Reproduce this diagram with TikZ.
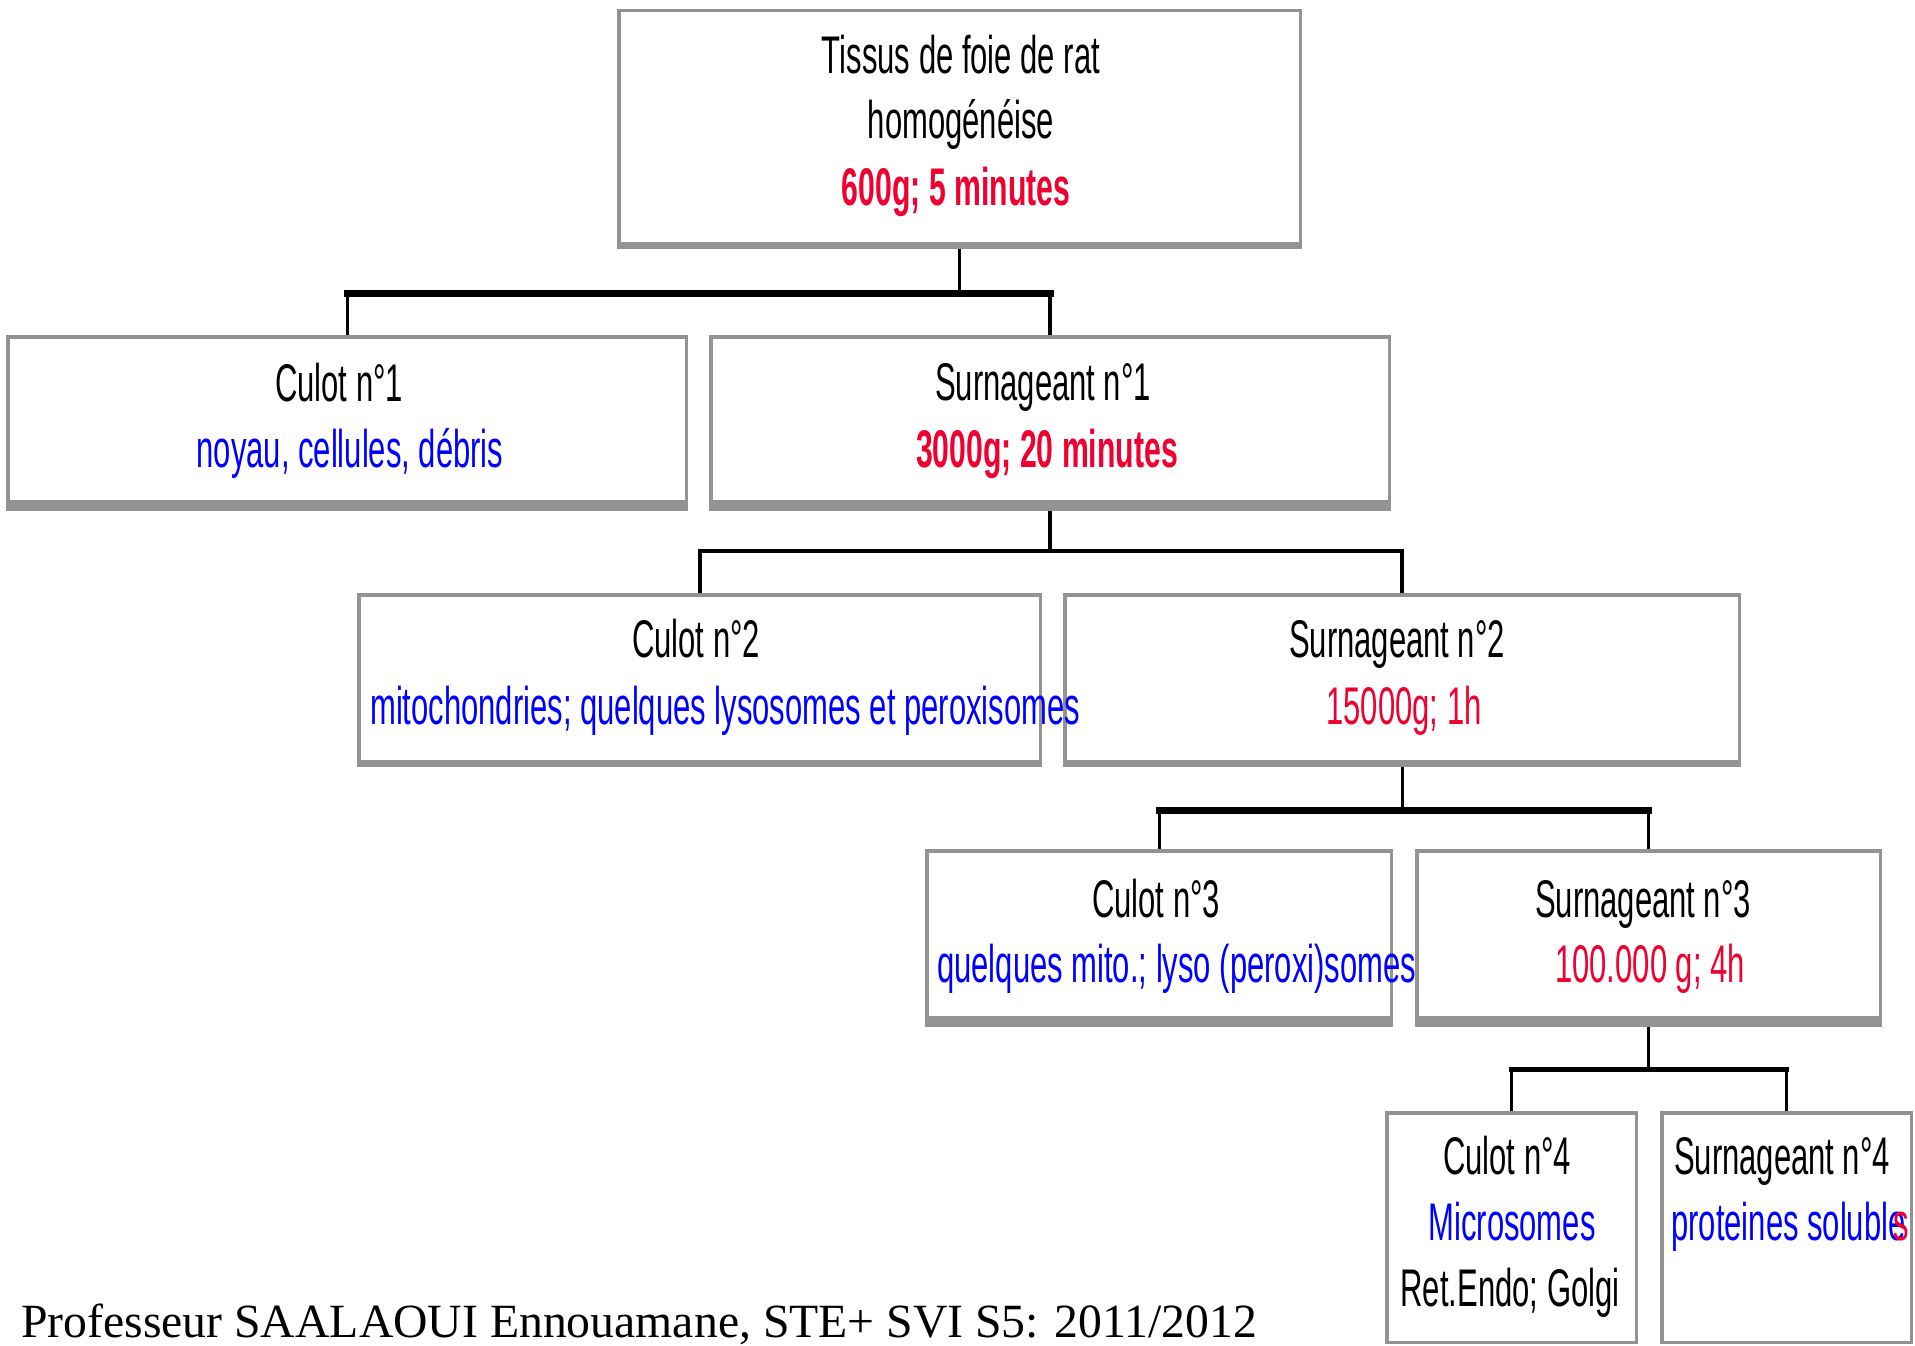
\documentclass[tikz,border=0pt]{standalone}
\usepackage{fontspec}
\setmainfont{Liberation Serif}
\newfontfamily\boxfont[FakeStretch=0.585]{Liberation Sans}
\newfontfamily\boxbold[FakeStretch=0.57]{Liberation Sans Bold}
\usetikzlibrary{backgrounds}
\definecolor{boxgray}{RGB}{147,147,147}
\definecolor{txtred}{RGB}{240,0,48}
\definecolor{txtblue}{RGB}{0,0,255}
\newcommand{\mygbox}[6]{%
  \pgfmathsetmacro{\bw}{#4-#2-3.5}%
  \pgfmathsetmacro{\bh}{#5-#6-#3}%
  \node[gbox, minimum width=\bw pt, minimum height=\bh pt, anchor=north west] (#1) at (#2+1.75,#3+1.75) {};%
  \fill[boxgray] (#2,#5-#6) rectangle (#4,#5);%
}
\begin{document}
\begin{tikzpicture}[x=1pt,y=-1pt,
  gbox/.style={rectangle, draw=boxgray, line width=3.5pt, inner sep=0pt, outer sep=0pt},
  lbl/.style={font=\boxfont\fontsize{53}{64}\selectfont, inner sep=0pt, anchor=base},
  lblbold/.style={lbl, text=txtred, font=\boxbold\fontsize{53}{64}\selectfont},
  lblw/.style={lbl, anchor=base west},
  stem/.style={line width=3pt, line cap=rect},
  stemthick/.style={line width=4.5pt, line cap=rect},
  barthick/.style={line width=7pt, line cap=rect},
  barmid/.style={line width=4pt, line cap=rect},
  barfive/.style={line width=5pt, line cap=rect},
]
\useasboundingbox (0,0) rectangle (1915,1346);

% boxes
\mygbox{top}{617}{9}{1302}{249}{7}
\mygbox{c1}{6}{335}{688}{511}{11}
\mygbox{s1}{709}{335}{1391}{511}{11}
\mygbox{c2}{357}{593}{1042}{767}{7}
\mygbox{s2}{1063}{593}{1741}{767}{7}
\mygbox{c3}{925}{849}{1393}{1027}{11}
\mygbox{s3}{1415}{849}{1882}{1027}{11}
\mygbox{c4}{1385}{1111}{1638}{1344}{3.5}
\mygbox{s4}{1660}{1111}{1913}{1344}{3.5}

% junction points
\coordinate (j1) at (top.south |- 0,293);
\coordinate (j2) at (s1.south |- 0,551);
\coordinate (j3) at (s2.south |- 0,810);
\coordinate (j4) at (s3.south |- 0,1069);

\begin{scope}[on background layer]
  \fill[white] (0,0) rectangle (1915,1346);
  % level 1
  \draw[stem] (top.south) -- (j1);
  \draw[barthick] (c1.north |- j1) -- (s1.north |- j1);
  \draw[stem] (c1.north |- j1) -- (c1.north);
  \draw[stemthick] (s1.north |- j1) -- (s1.north);
  % level 2
  \draw[stemthick] (s1.south) -- (j2);
  \draw[barmid] (c2.north |- j2) -- (s2.north |- j2);
  \draw[barmid] (c2.north |- j2) -- (c2.north);
  \draw[barmid] (s2.north |- j2) -- (s2.north);
  % level 3
  \draw[stem] (s2.south) -- (j3);
  \draw[barthick] (c3.north |- j3) -- (s3.north |- j3);
  \draw[stem] (c3.north |- j3) -- (c3.north);
  \draw[stem] (s3.north |- j3) -- (s3.north);
  % level 4
  \draw[stem] (s3.south) -- (j4);
  \draw[barfive] (c4.north |- j4) -- (s4.north |- j4);
  \draw[stem] (c4.north |- j4) -- (c4.north);
  \draw[stem] (s4.north |- j4) -- (s4.north);
\end{scope}

% texts
\node[lbl] (t1a) at (961,74) {Tissus de foie de rat};
\node[lbl] (t1b) at (961,139) {homogénéise};
\node[lblbold] (t1c) at (956,205) {600g; 5 minutes};

\node[lbl] (c1a) at (339,401) {Culot n°1};
\node[lbl, text=txtblue] (c1b) at (350,467) {noyau, cellules, débris};

\node[lbl] (s1a) at (1043,400) {Surnageant n°1};
\node[lblbold] (s1b) at (1047,467) {3000g; 20 minutes};

\node[lbl] (c2a) at (696,657) {Culot n°2};
\node[lblw, text=txtblue] (c2b) at (370,724) {mitochondries; quelques lysosomes et peroxisomes};

\node[lbl] (s2a) at (1397,657) {Surnageant n°2};
\node[lbl, text=txtred] (s2b) at (1404,724) {15000g; 1h};

\node[lbl] (c3a) at (1156,917) {Culot n°3};
\node[lblw, text=txtblue] (c3b) at (937,982) {quelques mito.; lyso (peroxi)somes};

\node[lbl] (s3a) at (1643,917) {Surnageant n°3};
\node[lbl, text=txtred] (s3b) at (1650,982) {100.000 g; 4h};

\node[lbl] (c4a) at (1507,1174) {Culot n°4};
\node[lbl, text=txtblue] (c4b) at (1512,1240) {Microsomes};
\node[lbl] (c4c) at (1510,1306) {Ret.Endo; Golgi};

\node[lbl] (s4a) at (1782,1174) {Surnageant n°4};
\node[lblw, text=txtblue] (s4b) at (1671,1240) {proteines soluble\kern-12pt\textcolor{txtred}{s}};

\node[font=\fontsize{47.7}{56}\selectfont, inner sep=0pt, anchor=base west] (foot) at (21,1337) {Professeur SAALAOUI Ennouamane, STE+ SVI S5: 2011/2012};
\end{tikzpicture}
\end{document}
